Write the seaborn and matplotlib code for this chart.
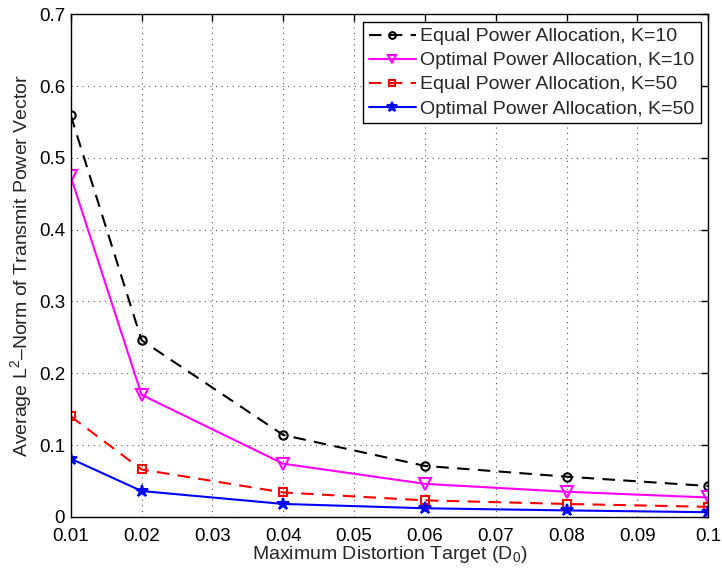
import matplotlib
matplotlib.use("Agg")
import matplotlib.pyplot as plt
import seaborn as sns
import pandas as pd

distortion = [0.01, 0.02, 0.04, 0.06, 0.08, 0.1]
equal_k10 = [0.559, 0.246, 0.114, 0.071, 0.056, 0.043]
optimal_k10 = [0.474, 0.170, 0.074, 0.046, 0.035, 0.027]
equal_k50 = [0.140, 0.066, 0.034, 0.023, 0.018, 0.014]
optimal_k50 = [0.081, 0.036, 0.018, 0.012, 0.009, 0.0065]

series_names = ["Equal Power Allocation, K=10", "Optimal Power Allocation, K=10",
                "Equal Power Allocation, K=50", "Optimal Power Allocation, K=50"]
series_values = [equal_k10, optimal_k10, equal_k50, optimal_k50]
x_ticks = [0.01, 0.02, 0.03, 0.04, 0.05, 0.06, 0.07, 0.08, 0.09, 0.1]
x_tick_labels = ["0.01", "0.02", "0.03", "0.04", "0.05", "0.06", "0.07", "0.08", "0.09", "0.1"]
y_ticks = [0, 0.1, 0.2, 0.3, 0.4, 0.5, 0.6, 0.7]
y_tick_labels = ["0", "0.1", "0.2", "0.3", "0.4", "0.5", "0.6", "0.7"]

sns.set_style("white")
plt.rcParams['font.family'] = ['Liberation Sans', 'DejaVu Sans']
plt.rcParams['mathtext.fontset'] = 'custom'
plt.rcParams['mathtext.rm'] = 'Liberation Sans'

rows = []
for name, vals in zip(series_names, series_values):
    for x, v in zip(distortion, vals):
        rows.append({"D": x, "val": v, "series": name})
df = pd.DataFrame(rows)

styles = {
    series_names[0]: dict(color="black", ls=(0, (6, 4)), marker="o", ms=6, mfc="none"),
    series_names[1]: dict(color="#ff00ff", ls="-", marker="v", ms=8, mfc="none"),
    series_names[2]: dict(color="red", ls=(0, (6, 4)), marker="s", ms=6, mfc="none"),
    series_names[3]: dict(color="blue", ls="-", marker="*", ms=9, mfc="blue"),
}

fig = plt.figure(figsize=(7.22, 5.68), dpi=100)
ax = fig.add_axes([0.098, 0.090, 0.883, 0.885])

for name in series_names:
    st = styles[name]
    sub = df[df["series"] == name]
    sns.lineplot(data=sub, x="D", y="val", ax=ax, color=st["color"], linestyle=st["ls"],
                 marker=st["marker"], markersize=st["ms"], markerfacecolor=st["mfc"],
                 markeredgecolor=st["color"], markeredgewidth=1.5, linewidth=1.5,
                 label=name, legend=False)

ax.set_xlim(0.01, 0.1)
ax.set_ylim(0, 0.7)
ax.set_xticks(x_ticks)
ax.set_xticklabels(x_tick_labels)
ax.set_yticks(y_ticks)
ax.set_yticklabels(y_tick_labels)
ax.tick_params(direction="in", length=5, width=1, labelsize=13.5, top=True, right=True,
               colors="black")
ax.tick_params(axis="x", pad=8)
ax.tick_params(axis="y", pad=4)
ax.grid(True, linestyle=(0, (1, 4)), color="#555555", linewidth=0.8)
for sp in ax.spines.values():
    sp.set_color("black")
    sp.set_linewidth(1)

ax.set_xlabel("Maximum Distortion Target (D$_0$)", fontsize=14, labelpad=-1)
ax.set_ylabel("Average L$^2$\u2013Norm of Transmit Power Vector", fontsize=14, labelpad=3)

leg = ax.legend(loc="upper right", fontsize=14, frameon=True, fancybox=False,
                edgecolor="black", handlelength=2.4, borderpad=0.3, labelspacing=0.33,
                handletextpad=0.25, borderaxespad=0.4, markerscale=0.8)
leg.get_frame().set_linewidth(1)
leg.get_frame().set_alpha(1)

fig.savefig("out.png", dpi=100)
